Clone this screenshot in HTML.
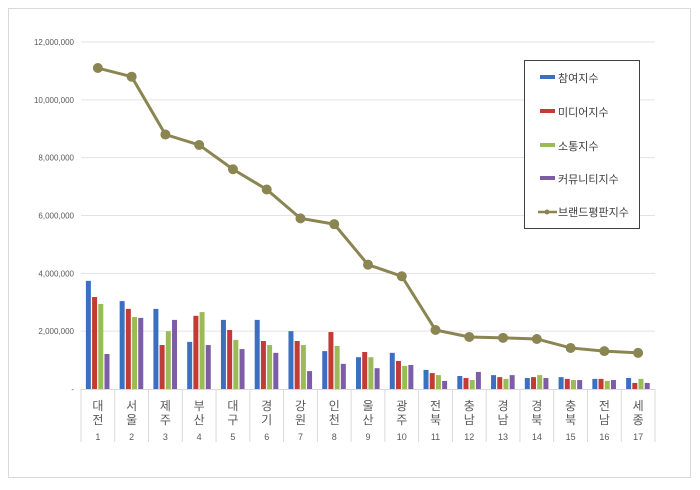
<!DOCTYPE html>
<html><head><meta charset="utf-8"><style>
body{margin:0;background:#fff;}
svg text{font-family:"Liberation Sans","Noto Sans CJK KR",sans-serif;}
</style></head><body>
<svg width="700" height="485" viewBox="0 0 700 485" id="chart">
<rect x="8.5" y="8.5" width="682" height="469" fill="#fff" stroke="#d9d9d9"/>
<g id="grid"></g><g id="bars"></g><g id="line"></g><g id="axes"></g>
<g>
<rect x="524.5" y="60.5" width="115" height="168" fill="#fff" stroke="#404040"/>
<rect x="540" y="75" width="15" height="4" fill="#3c70bf"/>
<text x="558" y="82" font-size="11" fill="#404040">참여지수</text>
<rect x="540" y="109" width="15" height="4" fill="#c13b37"/>
<text x="558" y="116" font-size="11" fill="#404040">미디어지수</text>
<rect x="540" y="143" width="15" height="4" fill="#9bbb59"/>
<text x="558" y="150" font-size="11" fill="#404040">소통지수</text>
<rect x="540" y="176" width="15" height="4" fill="#7d5ea6"/>
<text x="558" y="183" font-size="11" fill="#404040">커뮤니티지수</text>
<line x1="538" y1="212" x2="557" y2="212" stroke="#8b8552" stroke-width="2.5"/>
<circle cx="547" cy="212" r="2.5" fill="#8b8552"/>
<text x="558" y="216" font-size="11" fill="#404040">브랜드평판지수</text>
</g>
</svg>
<script>
const categories=["대전","서울","제주","부산","대구","경기","강원","인천","울산","광주","전북","충남","경남","경북","충북","전남","세종"];
const participation=[3.74,3.04,2.77,1.63,2.39,2.39,2.0,1.31,1.1,1.25,0.66,0.45,0.48,0.38,0.41,0.35,0.38];
const media=[3.18,2.77,1.52,2.53,2.04,1.66,1.66,1.97,1.28,0.97,0.55,0.38,0.41,0.41,0.35,0.35,0.21];
const communication=[2.94,2.49,2.0,2.66,1.7,1.52,1.52,1.49,1.1,0.8,0.48,0.31,0.35,0.48,0.31,0.28,0.35];
const community=[1.21,2.46,2.39,1.52,1.38,1.25,0.62,0.87,0.72,0.83,0.28,0.59,0.48,0.38,0.31,0.31,0.21];
const brand=[11.1,10.8,8.8,8.44,7.6,6.9,5.9,5.7,4.3,3.9,2.04,1.8,1.77,1.73,1.42,1.31,1.25];
const yTicks=[0,2,4,6,8,10,12];
const yTickLabels=["-","2,000,000","4,000,000","6,000,000","8,000,000","10,000,000","12,000,000"];
const NS="http://www.w3.org/2000/svg";
const x0=81,x1=655,y0=389,y12=42;
const bw=(x1-x0)/categories.length;
const y=v=>y0-(v/12)*(y0-y12);
const xc=i=>x0+bw*(i+0.5);
function mk(tag,attrs,parent){const e=document.createElementNS(NS,tag);for(const k in attrs)e.setAttribute(k,attrs[k]);document.getElementById(parent).appendChild(e);return e;}
yTicks.forEach((t,i)=>{
 if(t>0){const g=mk('line',{x1:x0,x2:x1,y1:y(t),y2:y(t),stroke:'#e3e3e3'},'grid');
 
 }
 const tx=mk('text',{x:74,y:y(t)+3,'font-size':8,'text-anchor':'end',fill:'#595959'},'axes');
 tx.textContent=yTickLabels[i];
 
 
});
const series=[[participation,'#3c70bf','bar-participation'],[media,'#c13b37','bar-media'],[communication,'#9bbb59','bar-communication'],[community,'#7d5ea6','bar-community']];
categories.forEach((c,i)=>{
 series.forEach((s,j)=>{
  const bx=xc(i)-12+j*6.2;
  const r=mk('rect',{x:bx,y:y(s[0][i]),width:5,height:y0-y(s[0][i]),fill:s[1]},'bars');
  
  
 });
 const d=mk('line',{x1:x0+bw*i,x2:x0+bw*i,y1:y0,y2:442,stroke:'#d9d9d9'},'axes');
 
 
 const t1=mk('text',{x:xc(i),y:410,'font-size':12,'text-anchor':'middle',fill:'#595959'},'axes');
 t1.textContent=c[0];
 
 
 const t2=mk('text',{x:xc(i),y:424,'font-size':12,'text-anchor':'middle',fill:'#595959'},'axes');
 t2.textContent=c[1];
 
 
 const t3=mk('text',{x:xc(i),y:440,'font-size':9,'text-anchor':'middle',fill:'#595959'},'axes');
 t3.textContent=String(i+1);
 
 
});
const ld=mk('line',{x1:x1,x2:x1,y1:y0,y2:442,stroke:'#d9d9d9'},'axes');


const ax=mk('line',{x1:x0,x2:x1,y1:y0+0.5,y2:y0+0.5,stroke:'#d9d9d9'},'axes');


const pl=mk('polyline',{points:brand.map((v,i)=>xc(i)+','+y(v)).join(' '),fill:'none',stroke:'#8b8552','stroke-width':3},'line');


brand.forEach((v,i)=>{
 const p=mk('circle',{cx:xc(i),cy:y(v),r:5,fill:'#8b8552'},'line');
 
 
});
</script>
</body></html>
